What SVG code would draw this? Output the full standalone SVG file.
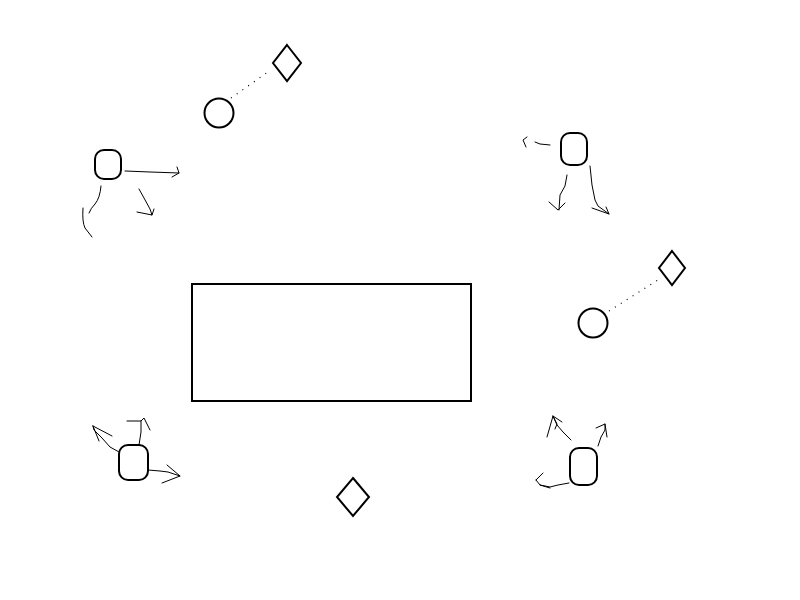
<svg xmlns="http://www.w3.org/2000/svg" width="800" height="600" viewBox="0 0 800 600">
<style>
.s{fill:#fff;stroke:#000;stroke-width:2}
.c{fill:none;stroke:#000;stroke-width:1;stroke-linecap:round;stroke-linejoin:round}
.d{fill:none;stroke:#000;stroke-width:1.2;stroke-dasharray:1 6}
</style>
<rect width="800" height="600" fill="#fff"/>
<g id="connectors">
<path class="d" d="M231,98 L268,72"/>
<path class="d" d="M609,311 L661,278"/>
<path class="c" d="M125,171 L150,172 L179,173 M177,167 L179,173 L172,177"/>
<path class="c" d="M101,186 Q100,198 95,204 Q91,208 89,213"/>
<path class="c" d="M83,208 Q82,222 85,228 L92,237"/>
<path class="c" d="M139,189 L144,198 L150,209 L152,215 L137,212 M152,215 L154,209"/>
<path class="c" d="M550,145 L540,144 L535,142 M527,137 L523,140 L526,147"/>
<path class="c" d="M567,175 L565,186 L560,195 L559,210 M549,202 L558,210 L565,203"/>
<path class="c" d="M590,166 L592,185 L595,200 L598,206 L609,214 M592,208 L609,214 L606,207"/>
<path class="c" d="M119,452 L110,447 L102,438 L94,430 L93,426 M93,426 L99,441 M93,426 L112,436"/>
<path class="c" d="M139,445 L141,432 L141,421 M127,421 L141,421 L144,418 L150,430"/>
<path class="c" d="M148,470 L160,471 L168,472 L180,476 M167,465 L180,476 L162,483"/>
<path class="c" d="M571,440 L563,432 L557,425 L553,416 M547,437 L553,416 L557,424 L555,429 M553,416 L562,422"/>
<path class="c" d="M598,446 L601,437 L605,430 L605,424 M596,428 L605,424 L607,437"/>
<path class="c" d="M569,483 L558,485 L550,487 L540,485 L536,480 M536,480 L543,473 M540,485 L550,488"/>
</g>
<g id="table"><rect class="s" x="192" y="284" width="279" height="117"/></g>
<g id="person1"><rect class="s" x="95" y="150" width="26" height="29" rx="9"/></g>
<g id="person2"><rect class="s" x="561" y="133" width="26" height="32" rx="9"/></g>
<g id="person3"><rect class="s" x="119" y="445" width="29" height="35" rx="9"/></g>
<g id="person4"><rect class="s" x="570" y="448" width="27" height="37" rx="9"/></g>
<g id="circle1"><circle class="s" cx="219" cy="113" r="14.5"/></g>
<g id="circle2"><circle class="s" cx="593" cy="323" r="14.5"/></g>
<g id="diamond1"><path class="s" d="M287,45 L301,63 L287,81 L273,63 Z"/></g>
<g id="diamond2"><path class="s" d="M672,251 L685,268 L672,285 L659,268 Z"/></g>
<g id="diamond3"><path class="s" d="M353,478 L369,497 L353,516 L337,497 Z"/></g>
</svg>
